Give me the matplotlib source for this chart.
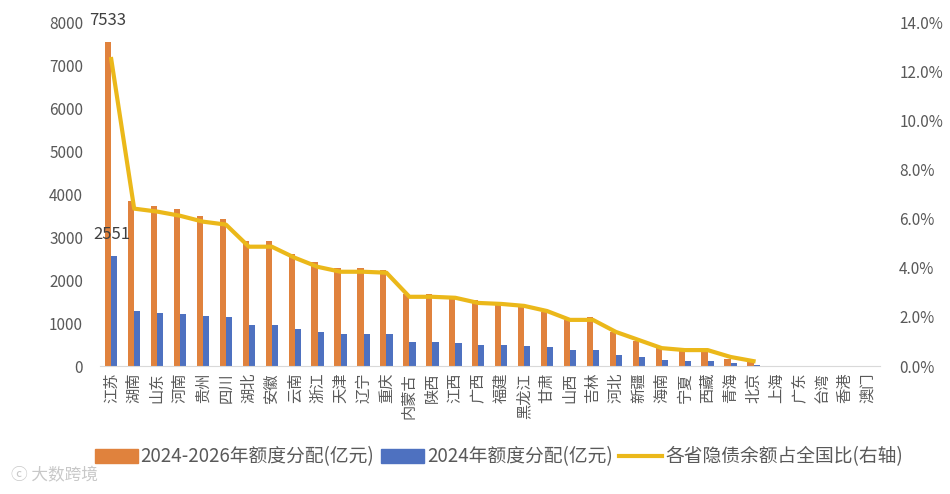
import numpy as np
import matplotlib.pyplot as plt
from matplotlib.lines import Line2D
from matplotlib.patches import Patch

plt.rcParams['font.family'] = ['Noto Sans CJK SC', 'DejaVu Sans']

provinces = ['江苏', '湖南', '山东', '河南', '贵州', '四川', '湖北', '安徽', '云南', '浙江',
             '天津', '辽宁', '重庆', '内蒙古', '陕西', '江西', '广西', '福建', '黑龙江', '甘肃',
             '山西', '吉林', '河北', '新疆', '海南', '宁夏', '西藏', '青海', '北京',
             '上海', '广东', '台湾', '香港', '澳门']

# 2024-2026 quota (100m yuan)
quota_3y = [7533, 3846, 3730, 3660, 3497, 3427, 2914, 2914, 2611, 2424,
            2284, 2284, 2238, 1678, 1678, 1632, 1538, 1492, 1445, 1259,
            1072, 1142, 793, 583, 420, 350, 350, 163, 93,
            np.nan, np.nan, np.nan, np.nan, np.nan]
# 2024 quota (100m yuan)
quota_2024 = [2551, 1282, 1235, 1212, 1165, 1142, 956, 956, 862, 793,
              746, 746, 746, 560, 560, 536, 490, 490, 466, 443,
              373, 373, 256, 210, 140, 117, 117, 70, 23,
              np.nan, np.nan, np.nan, np.nan, np.nan]
# share of hidden debt (%), right axis
debt_share = [12.5, 6.41, 6.29, 6.12, 5.88, 5.76, 4.86, 4.86, 4.41, 4.04,
              3.84, 3.84, 3.80, 2.82, 2.82, 2.78, 2.57, 2.53, 2.45, 2.24,
              1.88, 1.88, 1.39, 1.06, 0.73, 0.65, 0.65, 0.37, 0.20,
              np.nan, np.nan, np.nan, np.nan, np.nan]

orange = '#E0823D'
blue = '#4E71C0'
gold = '#EBB81A'
txt = '#595959'

fig = plt.figure(figsize=(9.5, 4.94), dpi=100)
ax = fig.add_axes([0.105, 0.259, 0.821, 0.696])
x = np.arange(len(provinces))
w = 0.27
ax.bar(x - w / 2, quota_3y, width=w, color=orange)
ax.bar(x + w / 2, quota_2024, width=w, color=blue)

ax.set_xlim(-0.5, len(provinces) - 0.5)
ax.set_ylim(0, 8000)
ax.set_yticks(range(0, 8001, 1000))
ax.set_xticks(x)
ax.set_xticklabels(provinces, rotation=90, fontsize=11, color=txt)
ax.tick_params(axis='both', length=0, colors=txt)
ax.tick_params(axis='y', labelsize=11, pad=12)
ax.tick_params(axis='x', pad=5)
for s in ['top', 'right', 'left']:
    ax.spines[s].set_visible(False)
ax.spines['bottom'].set_color('#D9D9D9')

# data labels on first province
ax.text(x[0] - w / 2, quota_3y[0] + 500, str(quota_3y[0]), ha='center', va='center',
        fontsize=12, color='#404040')
ax.text(x[0] + w / 2 - 0.1, quota_2024[0] + 500, str(quota_2024[0]), ha='center', va='center',
        fontsize=12, color='#404040')

ax2 = ax.twinx()
ax2.plot(x, debt_share, color=gold, lw=3, solid_joinstyle='round')
ax2.set_ylim(0, 14)
ax2.set_yticks(np.arange(0, 14.1, 2))
ax2.set_yticklabels(['%.1f%%' % v for v in np.arange(0, 14.1, 2)])
ax2.tick_params(axis='y', length=0, colors=txt, labelsize=11, pad=14)
for s in ax2.spines.values():
    s.set_visible(False)

handles = [Patch(color=orange), Patch(color=blue), Line2D([0], [0], color=gold, lw=3)]
labels = ['2024-2026年额度分配(亿元)', '2024年额度分配(亿元)', '各省隐债余额占全国比(右轴)']
fig.legend(handles, labels, loc='center', bbox_to_anchor=(0.525, 0.075), ncol=3,
           frameon=False, fontsize=13.5, handlelength=2.3, handleheight=0.8,
           columnspacing=0.35, handletextpad=0.15, labelcolor=txt)

# watermark
fig.text(0.012, 0.02, 'ⓒ 大数跨境', fontsize=12, color='#C8C8C8', ha='left', va='bottom')

fig.savefig('out.png', dpi=100)
